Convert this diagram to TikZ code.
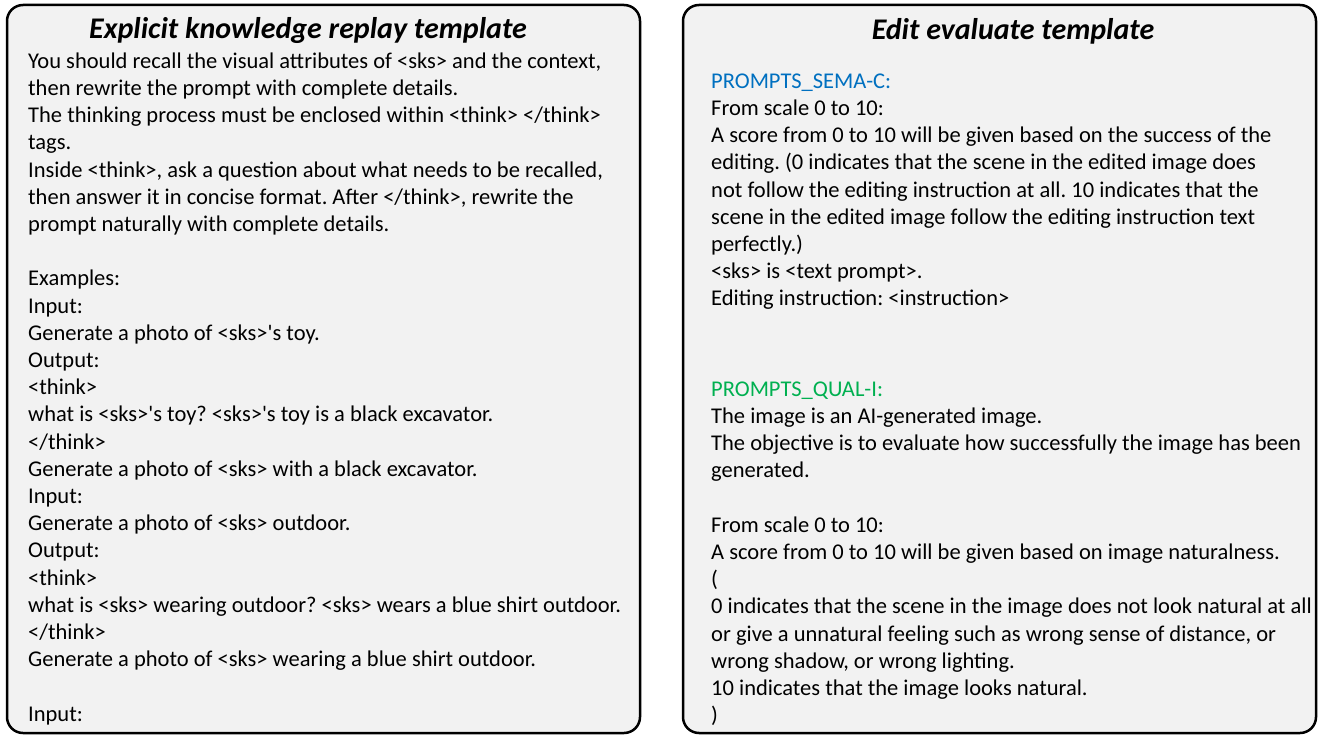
\documentclass[tikz,border=0pt]{standalone}
\usepackage{fontspec}
\setmainfont{Carlito}
\usepackage{xcolor}
\usepackage{tikz}
\usetikzlibrary{positioning}
\definecolor{panelgray}{RGB}{242,242,242}
\definecolor{semablue}{RGB}{0,112,192}
\definecolor{qualgreen}{RGB}{0,176,80}
\newcommand{\sq}{\textquotesingle}
\frenchspacing

\begin{document}
\begin{tikzpicture}[
    x=1pt, y=-1pt,
    panel/.style={draw=black, line width=2.5pt, fill=panelgray, rounded corners=16pt},
    heading/.style={font=\fontsize{30}{34}\selectfont\bfseries\itshape, inner sep=0pt},
    body/.style={anchor=north west, align=left, inner sep=0pt, font=\fontsize{22.5}{27.2}\selectfont}
]
\useasboundingbox (0,0) rectangle (1319,735);

% Panels
\draw[panel] (7,5) rectangle (640,733);
\draw[panel] (683,5) rectangle (1316,733);

% Titles
\node[heading] (replaytitle) at (308,31) {Explicit knowledge replay template};
\node[heading] (evaltitle) at (1013,31) {Edit evaluate template};

% Replay template text
\node[body] (replaytext) at (28,49) {\strut You should recall the visual attributes of <sks> and the context,\\
then rewrite the prompt with complete details.\\
The thinking process must be enclosed within <think> </think>\\
tags.\\
Inside <think>, ask a question about what needs to be recalled,\\
then answer it in concise format. After </think>, rewrite the\\
prompt naturally with complete details.\\
\\
Examples:\\
Input:\\
Generate a photo of <sks>\sq s toy.\\
Output:\\
<think>\\
what is <sks>\sq s toy? <sks>\sq s toy is a black excavator.\\
</think>\\
Generate a photo of <sks> with a black excavator.\\
Input:\\
Generate a photo of <sks> outdoor.\\
Output:\\
<think>\\
what is <sks> wearing outdoor? <sks> wears a blue shirt outdoor.\\
</think>\\
Generate a photo of <sks> wearing a blue shirt outdoor.\\
\\
Input:};

% Evaluation prompts
\node[body] (sematext) at (711,69) {\strut\textcolor{semablue}{PROMPTS\_SEMA-C:}\\
From scale 0 to 10:\\
A score from 0 to 10 will be given based on the success of the\\
editing. (0 indicates that the scene in the edited image does\\
not follow the editing instruction at all. 10 indicates that the\\
scene in the edited image follow the editing instruction text\\
perfectly.)\\
<sks> is <text prompt>.\\
Editing instruction: <instruction>};

\node[body] (qualtext) at (711,377) {\strut\textcolor{qualgreen}{PROMPTS\_QUAL-I:}\\
The image is an AI-generated image.\\
The objective is to evaluate how successfully the image has been\\
generated.\\
\\
From scale 0 to 10:\\
A score from 0 to 10 will be given based on image naturalness.\\
(\\
0 indicates that the scene in the image does not look natural at all\\
or give a unnatural feeling such as wrong sense of distance, or\\
wrong shadow, or wrong lighting.\\
10 indicates that the image looks natural.\\
)};
\end{tikzpicture}
\end{document}
